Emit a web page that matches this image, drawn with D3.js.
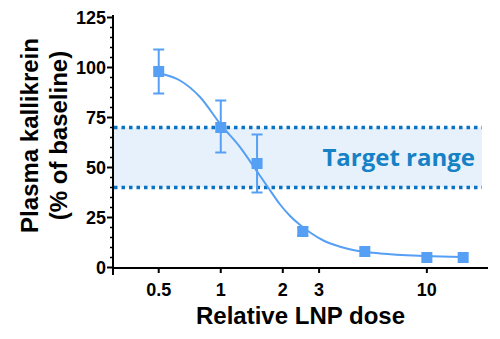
<!DOCTYPE html>
<html>
<head>
<meta charset="utf-8">
<script src="https://cdn.jsdelivr.net/npm/d3@7/dist/d3.min.js"></script>
<style>
  html, body { margin: 0; padding: 0; background: #fff; }
  svg { display: block; }
</style>
</head>
<body>
<svg id="chart" width="500" height="339"></svg>
<script>
// Measured doses (relative LNP dose) and plasma kallikrein (% of baseline)
const doses     = [0.5, 1, 1.5, 2.5, 5, 10, 15];
const kallikrein = [98, 70, 52, 18, 8, 5, 5];
const errUpper  = [11, 13.5, 14.5, 2, 0, 0, 0];
const errLower  = [11, 12.5, 14.5, 2, 0, 0, 0];

// Fitted dose-response curve, sampled points
const fitDoses = [0.526, 0.634, 0.793, 1.003, 1.24, 1.5, 1.697, 1.94, 2.17, 2.427, 2.713, 3.148, 3.795, 4.573, 5.935, 9.92, 14.84];
const fitPct   = [96.6, 93.5, 85.25, 71.25, 60.2, 48, 40, 31.5, 25.75, 21.25, 17.5, 13.5, 10.4, 8.4, 7, 5.75, 5.25];

// Target range band
const targetRange = [40, 70];
const targetLabel = "Target range";

// Axis ticks
const xTicks = [0.5, 1, 2, 3, 10];
const xTickLabels = ["0.5", "1", "2", "3", "10"];
const yTicks = [0, 25, 50, 75, 100, 125];
const yMinorTicks = d3.range(0, 126, 5);

const xTitle = "Relative LNP dose";
const yTitle = ["Plasma kallikrein", "(% of baseline)"];

const markColor = "#559ff4";
const bandLine = "#0a72c2";
const bandFill = "#e6f1fc";
const labelColor = "#1681c4";
const font = "'Liberation Sans', Arial, sans-serif";

const svg = d3.select("#chart");

const x = d3.scaleLog().domain([0.3, 19.8]).range([113, 488]);
const y = d3.scaleLinear().domain([0, 125]).range([267.5, 17.5]);

// Target band
svg.append("rect")
  .attr("x", x(0.3))
  .attr("y", y(targetRange[1]))
  .attr("width", 482 - x(0.3))
  .attr("height", y(targetRange[0]) - y(targetRange[1]))
  .attr("fill", bandFill);

svg.selectAll("line.band")
  .data(targetRange)
  .join("line")
  .attr("class", "band")
  .attr("x1", x(0.3) + 1)
  .attr("x2", 482)
  .attr("y1", d => y(d))
  .attr("y2", d => y(d))
  .attr("stroke", bandLine)
  .attr("stroke-width", 3.5)
  .attr("stroke-dasharray", "3.5,4");

svg.append("text")
  .attr("x", 475)
  .attr("y", 165.5)
  .attr("text-anchor", "end")
  .attr("font-family", "'Open Sans', sans-serif")
  .attr("font-weight", 700)
  .attr("font-size", 24)
  .attr("fill", labelColor)
  .text(targetLabel);

// Fitted curve
const fit = fitDoses.map((d, i) => [d, fitPct[i]]);
svg.append("path")
  .datum(fit)
  .attr("fill", "none")
  .attr("stroke", markColor)
  .attr("stroke-width", 2)
  .attr("d", d3.line().x(d => x(d[0])).y(d => y(d[1])).curve(d3.curveMonotoneX));

// Error bars
const pts = doses.map((d, i) => ({ dose: d, v: kallikrein[i], hi: kallikrein[i] + errUpper[i], lo: kallikrein[i] - errLower[i] }));
const eb = svg.append("g").attr("stroke", markColor).attr("stroke-width", 2);
pts.filter(p => p.hi > p.lo).forEach(p => {
  eb.append("line").attr("x1", x(p.dose)).attr("x2", x(p.dose)).attr("y1", y(p.hi)).attr("y2", y(p.lo));
  [p.hi, p.lo].forEach(v => {
    eb.append("line").attr("x1", x(p.dose) - 5.5).attr("x2", x(p.dose) + 5.5).attr("y1", y(v)).attr("y2", y(v));
  });
});

// Markers
svg.selectAll("rect.pt")
  .data(pts)
  .join("rect")
  .attr("class", "pt")
  .attr("x", d => x(d.dose) - 5.5)
  .attr("y", d => y(d.v) - 5.5)
  .attr("width", 11)
  .attr("height", 11)
  .attr("fill", markColor);

// Axes
const axisG = svg.append("g").attr("stroke", "#000");
axisG.append("line").attr("x1", 113).attr("x2", 113).attr("y1", 15).attr("y2", 275).attr("stroke-width", 2);
axisG.append("line").attr("x1", 112).attr("x2", 488).attr("y1", 268).attr("y2", 268).attr("stroke-width", 2);

// Y minor / major ticks
axisG.selectAll("line.ymin")
  .data(yMinorTicks.filter(t => !yTicks.includes(t)))
  .join("line")
  .attr("x1", 110).attr("x2", 113)
  .attr("y1", d => y(d)).attr("y2", d => y(d))
  .attr("stroke-width", 1.5);
axisG.selectAll("line.ymaj")
  .data(yTicks)
  .join("line")
  .attr("x1", 107).attr("x2", 113)
  .attr("y1", d => y(d)).attr("y2", d => y(d))
  .attr("stroke-width", 2);

// X ticks
axisG.selectAll("line.xt")
  .data(xTicks)
  .join("line")
  .attr("x1", d => x(d)).attr("x2", d => x(d))
  .attr("y1", 268).attr("y2", 273)
  .attr("stroke-width", 2);

svg.selectAll("text.yt")
  .data(yTicks)
  .join("text")
  .attr("x", 106)
  .attr("y", d => y(d))
  .attr("dy", "0.36em")
  .attr("text-anchor", "end")
  .attr("font-family", font)
  .attr("font-weight", 700)
  .attr("font-size", 18)
  .text(d => d);

svg.selectAll("text.xt")
  .data(xTicks)
  .join("text")
  .attr("x", d => x(d))
  .attr("y", 296)
  .attr("text-anchor", "middle")
  .attr("font-family", font)
  .attr("font-weight", 700)
  .attr("font-size", 18)
  .text((d, i) => xTickLabels[i]);

// Titles
svg.append("text")
  .attr("x", 300.5)
  .attr("y", 324)
  .attr("text-anchor", "middle")
  .attr("font-family", font)
  .attr("font-weight", 700)
  .attr("font-size", 24)
  .text(xTitle);

const yt = svg.append("text")
  .attr("transform", "translate(0,135.5) rotate(-90)")
  .attr("text-anchor", "middle")
  .attr("font-family", font)
  .attr("font-weight", 700)
  .attr("font-size", 24);
yt.append("tspan").attr("x", 0).attr("y", 37.5).text(yTitle[0]);
yt.append("tspan").attr("x", 0).attr("y", 67).text(yTitle[1]);
</script>
</body>
</html>
